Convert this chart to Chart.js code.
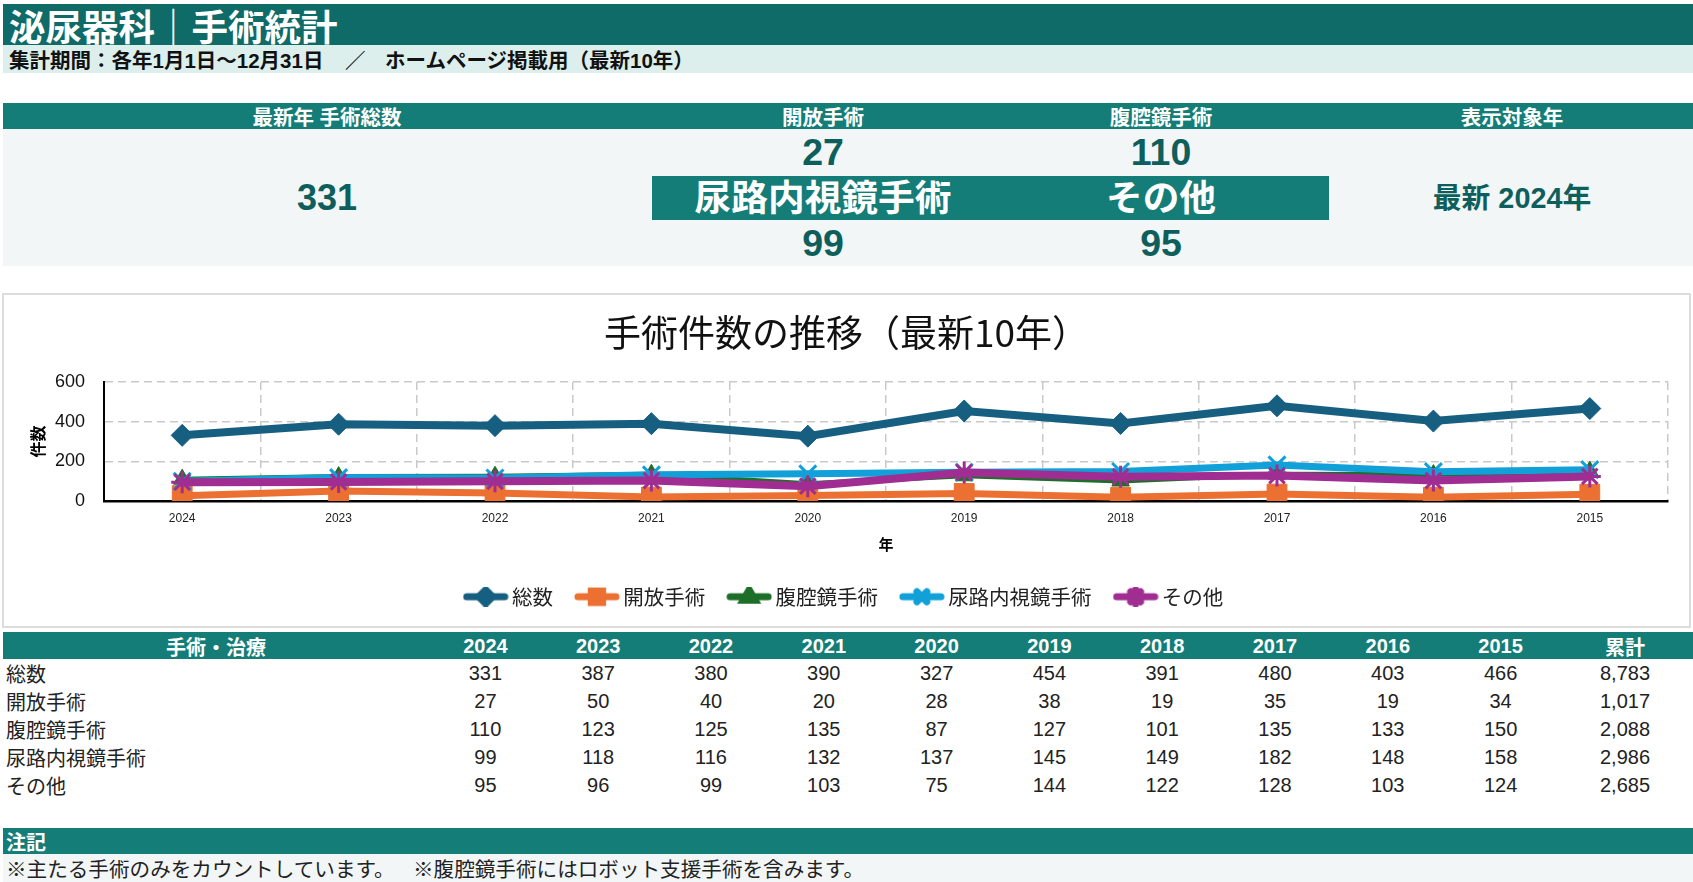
<!DOCTYPE html>
<html><head><meta charset="utf-8">
<script src="https://cdn.jsdelivr.net/npm/chart.js@4.4.1/dist/chart.umd.min.js"></script>
<style>
html,body{margin:0;padding:0;background:#fff;}
body{width:1693px;height:882px;position:relative;overflow:hidden;font-family:"Liberation Sans","Noto Sans CJK JP",sans-serif;color:#222;}
.abs{position:absolute;box-sizing:border-box;}
.c{position:absolute;text-align:center;white-space:nowrap;transform:translate(-50%,-50%);}
.l{position:absolute;white-space:nowrap;transform:translateY(-50%);}
#titlebar{left:3px;top:4px;width:1690px;height:41px;background:#0e6b68;}
#sub{left:3px;top:45px;width:1690px;height:28px;background:#dcefed;}
#kh{left:3px;top:103px;width:1690px;height:26px;background:#157d77;}
#kb{left:3px;top:129px;width:1690px;height:137px;background:#f2f6f7;}
#band{left:652px;top:176px;width:677px;height:44px;background:#157d77;}
#cbox{left:2px;top:293px;width:1689px;height:335px;border:2px solid #dcdcdc;background:#fff;}
#th{left:3px;top:632px;width:1690px;height:27px;background:#157d77;}
#nh{left:3px;top:828px;width:1690px;height:26px;background:#157d77;}
#nb{left:3px;top:854px;width:1690px;height:28px;background:#f2f6f7;}
.w{color:#fff;font-weight:bold;}
.kn{color:#0e5f5b;font-weight:bold;font-size:37.5px;}
</style>
</head><body>
<div class="abs" id="titlebar"></div>
<div class="abs" id="sub"></div>
<div class="abs" id="kh"></div>
<div class="abs" id="kb"></div>
<div class="abs" id="band"></div>
<div class="abs" id="cbox"></div>
<div class="abs" id="th"></div>
<div class="abs" id="nh"></div>
<div class="abs" id="nb"></div>
<div class="abs" style="left:4px;top:295px;width:1685px;height:331px;"><canvas id="chart" width="1685" height="331" style="width:1685px;height:331px;"></canvas></div>
<div id="texts"></div>
<script>
// ---- data ----
const years = ['2024','2023','2022','2021','2020','2019','2018','2017','2016','2015'];
const seriesNames = ['総数','開放手術','腹腔鏡手術','尿路内視鏡手術','その他'];
const totalCounts = [331,387,380,390,327,454,391,480,403,466];
const openCounts = [27,50,40,20,28,38,19,35,19,34];
const laparoscopicCounts = [110,123,125,135,87,127,101,135,133,150];
const endoscopicCounts = [99,118,116,132,137,145,149,182,148,158];
const otherCounts = [95,96,99,103,75,144,122,128,103,124];
const cumulativeLabels = ['8,783','1,017','2,088','2,986','2,685'];
const yTicks = [0,200,400,600];
const pageTitle = '泌尿器科｜手術統計';
const subTitleParts = ['集計期間：各年1月1日〜12月31日', '／', 'ホームページ掲載用（最新10年）'];
const chartTitle = '手術件数の推移（最新10年）';
const notes = ['※主たる手術のみをカウントしています。', '※腹腔鏡手術にはロボット支援手術を含みます。'];

const allSeries = [totalCounts, openCounts, laparoscopicCounts, endoscopicCounts, otherCounts];

// ---- HTML texts ----
const T = document.getElementById('texts');
function add(cls, x, y, text, style) {
  const d = document.createElement('div');
  d.className = cls; d.style.left = x + 'px'; d.style.top = y + 'px';
  d.textContent = text; if (style) d.style.cssText += style;
  T.appendChild(d); return d;
}
add('l w', 9, 25, pageTitle, 'font-size:36.5px;');
const subStyle = 'font-size:20.5px;font-weight:bold;color:#111;';
add('l', 9, 59, subTitleParts[0], subStyle);
add('l', 345, 59, subTitleParts[1], subStyle);
add('l', 385, 59, subTitleParts[2], subStyle);
// KPI
const kx = [327, 823, 1161, 1512];
const khStyle = 'font-size:20.5px;';
add('c w', kx[0], 116, '最新年 手術総数', khStyle);
add('c w', kx[1], 116, seriesNames[1], khStyle);
add('c w', kx[2], 116, seriesNames[2], khStyle);
add('c w', kx[3], 116, '表示対象年', khStyle);
add('c kn', kx[0], 198, String(totalCounts[0]), 'font-size:36px;');
add('c kn', kx[1], 152, String(openCounts[0]));
add('c kn', kx[2], 152, String(laparoscopicCounts[0]));
add('c w', kx[1], 195, seriesNames[3], 'font-size:36.7px;');
add('c w', kx[2], 195, seriesNames[4], 'font-size:36.7px;');
add('c kn', kx[1], 243, String(endoscopicCounts[0]));
add('c kn', kx[2], 243, String(otherCounts[0]));
add('c kn', kx[3], 195, '最新 ' + years[0] + '年', 'font-size:28.8px;');
// table
const colX = years.map((_, i) => 429 + 112.8 * (i + 0.5));
add('c w', 216, 646, '手術・治療', 'font-size:20px;');
years.forEach((y, i) => add('c w', colX[i], 646, y, 'font-size:20px;'));
add('c w', 1625, 646, '累計', 'font-size:20px;');
seriesNames.forEach((n, r) => {
  const cy = 673 + 28 * r;
  add('l', 6, cy, n, 'font-size:20px;color:#222;');
  allSeries[r].forEach((v, i) => add('c', colX[i], cy, String(v), 'font-size:20px;color:#222;'));
  add('c', 1625, cy, cumulativeLabels[r], 'font-size:20px;color:#222;');
});
add('l w', 6, 841, '注記', 'font-size:20px;');
add('l', 6, 868, notes[0], 'font-size:20.6px;color:#222;');
add('l', 413, 868, notes[1], 'font-size:20.6px;color:#222;');

// ---- chart ----
const colors = ['#175f80', '#ec7031', '#1d6e28', '#12a0d9', '#a02e92'];
const styles = ['rectRot', 'rect', 'triangle', 'crossRot', 'star'];
const radii = [11, 14, 10, 12, 11];
const lineW = [8, 7, 5, 7, 8];
const ptBorder = [1, 1, 1, 3, 3];
const legendRadii = [7, 8, 7, 7, 7];

function legendImage(i) {
  const c = document.createElement('canvas');
  c.width = 46; c.height = 20;
  const g = c.getContext('2d');
  g.strokeStyle = colors[i]; g.fillStyle = colors[i];
  g.lineWidth = 7; g.lineCap = 'round';
  g.beginPath(); g.moveTo(4, 10); g.lineTo(42, 10); g.stroke();
  Chart.helpers.drawPoint(g, {pointStyle: styles[i], radius: legendRadii[i], rotation: 0, borderWidth: 2}, 23, 10);
  return c;
}

const FONT = "'Liberation Sans','Noto Sans CJK JP',sans-serif";
Chart.defaults.font.family = FONT;
const legendImgs = seriesNames.map((_, i) => legendImage(i));

new Chart(document.getElementById('chart'), {
  type: 'line',
  data: {
    labels: years,
    datasets: seriesNames.map((n, i) => ({
      label: n,
      data: allSeries[i],
      borderColor: colors[i],
      backgroundColor: colors[i],
      borderWidth: lineW[i],
      pointStyle: styles[i],
      pointRadius: radii[i],
      pointHoverRadius: radii[i],
      pointBorderWidth: ptBorder[i],
      pointBackgroundColor: colors[i],
      pointBorderColor: colors[i],
      tension: 0,
      order: seriesNames.length - 1 - i
    }))
  },
  options: {
    responsive: false,
    animation: false,
    devicePixelRatio: 1,
    layout: {padding: {left: 21, right: 21, top: 0, bottom: 9}},
    plugins: {
      title: {display: true, text: chartTitle, color: '#111',
        font: {size: 37, weight: 'normal', family: "'Noto Sans CJK JP',sans-serif"},
        padding: {top: 16, bottom: 26.6}},
      legend: {position: 'bottom',
        labels: {
          usePointStyle: true, pointStyleWidth: 32, padding: 28, color: '#222',
          font: {size: 20.5, family: "'Noto Sans CJK JP',sans-serif"},
          generateLabels: (chart) => chart.data.datasets.map((ds, i) => ({
            text: ds.label, datasetIndex: i, pointStyle: legendImgs[i],
            fillStyle: colors[i], strokeStyle: colors[i], lineWidth: 0, hidden: false, fontColor: '#222'
          }))
        }
      },
      tooltip: {enabled: false}
    },
    scales: {
      x: {
        offset: true,
        afterFit: (axis) => { axis.height = 57.5; },
        grid: {offset: true, drawTicks: false, lineWidth: 1.5,
          color: (ctx) => ctx.index === 0 ? 'rgba(0,0,0,0)' : '#c9c9c9'},
        border: {display: true, color: '#000', width: 2.5, dash: [8, 5]},
        ticks: {padding: 10.8, color: '#222', font: {size: 12}},
        title: {display: true, text: '年', color: '#000',
          font: {size: 15, weight: 'bold', family: "'Noto Sans CJK JP',sans-serif"},
          padding: {top: 8.8, bottom: 5.5}}
      },
      y: {
        min: 0, max: 600,
        afterBuildTicks: (axis) => { axis.ticks = yTicks.map(v => ({value: v})); },
        afterFit: (axis) => { axis.width = 79; },
        grid: {drawTicks: false, lineWidth: 1.5,
          color: (ctx) => (ctx.tick && ctx.tick.value === 0) ? 'rgba(0,0,0,0)' : '#c9c9c9'},
        border: {display: true, color: '#000', width: 2, dash: [8, 5]},
        ticks: {padding: 19, color: '#111', font: {size: 18}},
        title: {display: true, text: '件数', color: '#000',
          font: {size: 16, weight: 'bold', family: "'Noto Sans CJK JP',sans-serif"},
          padding: {top: 3.4, bottom: 3}}
      }
    }
  }
});
</script>
</body></html>
